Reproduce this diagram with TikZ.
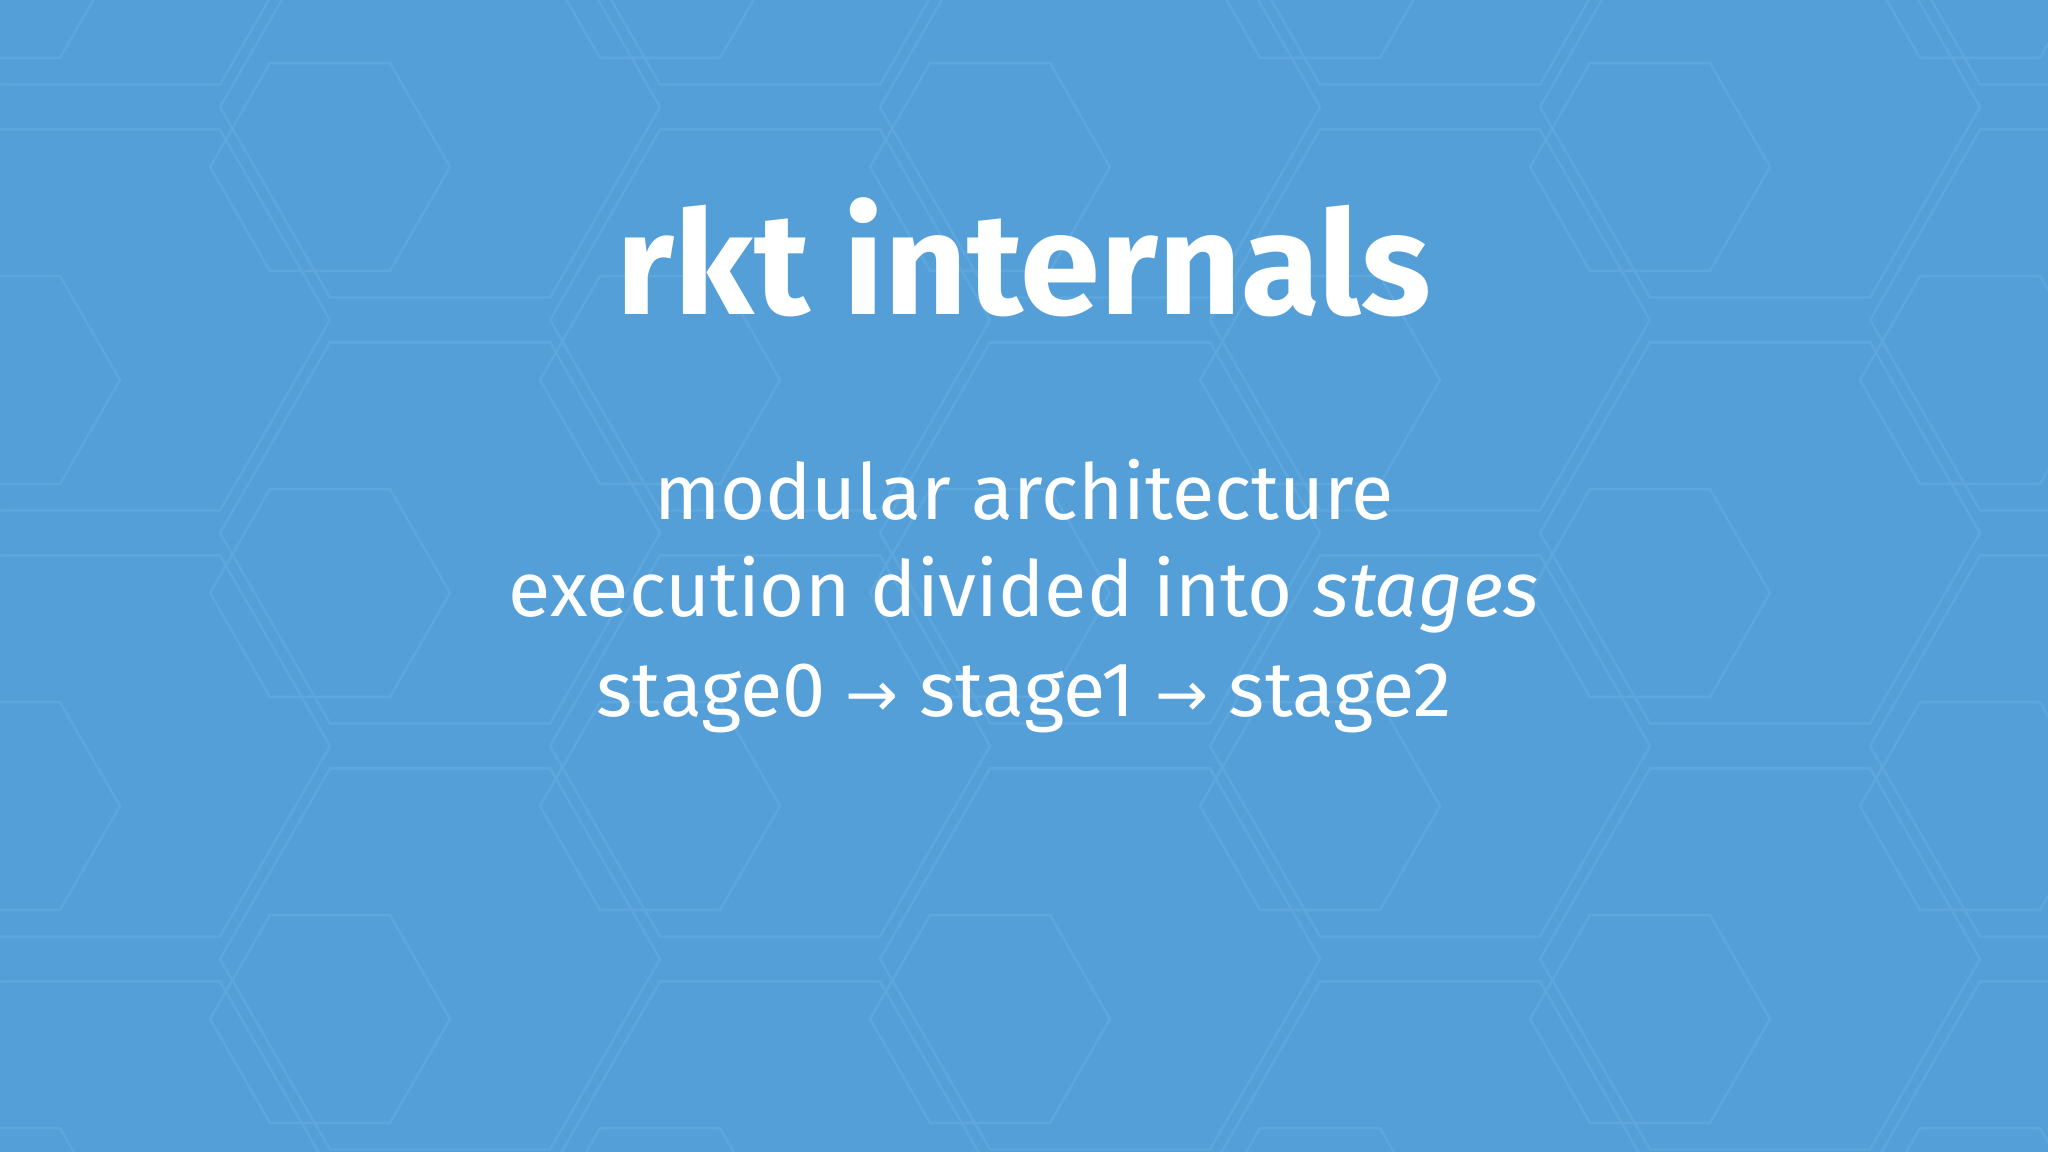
\documentclass[tikz,border=0pt]{standalone}
\usepackage{fontspec}
\setmainfont{Fira Sans}
\newfontfamily\arrowfont{DejaVu Sans}
\definecolor{bg}{HTML}{559FD8}
\definecolor{hexline}{HTML}{5EA7DD}
\begin{document}
\begin{tikzpicture}[x=1cm,y=1cm,
  hexs/.style={draw=hexline,line width=0.7pt},
  txt/.style={text=white,font=\fontsize{22}{27}\selectfont,inner sep=0pt}]
\fill[bg] (0,0) rectangle (20.48,11.52);
\useasboundingbox (0,0) rectangle (20.48,11.52);
\begin{scope}
\clip (0,0) rectangle (20.48,11.52);
\foreach \i in {0,...,8}{
  \foreach \j in {0,...,5}{
    \pgfmathsetmacro\cx{\i*3.3}
    \pgfmathsetmacro\cy{\j*2.13*2 + mod(\i,2)*2.13 - 0.8}
    \draw[hexs] (\cx,\cy) ++(1.2,0) -- ++(120:1.2) -- ++(180:1.2) -- ++(240:1.2) -- ++(300:1.2) -- ++(0:1.2) -- cycle;
    \draw[hexs] (\cx+1.1,\cy+0.6) ++(2.2,0) -- ++(120:2.2) -- ++(180:2.2) -- ++(240:2.2) -- ++(300:2.2) -- ++(0:2.2) -- cycle;
  }
}
\end{scope}
\node[txt,font=\fontsize{41}{48}\selectfont\bfseries] (title) at (10.24,8.95) {rkt internals};
\node[txt] (l1) at (10.24,6.62) {modular architecture};
\node[txt] (l2) at (10.24,5.57) {execution divided into \textit{stages}};
\node[txt] (l3) at (10.24,4.54) {stage0 {\arrowfont\fontsize{18}{22}\selectfont →} stage1 {\arrowfont\fontsize{18}{22}\selectfont →} stage2};
\end{tikzpicture}
\end{document}
